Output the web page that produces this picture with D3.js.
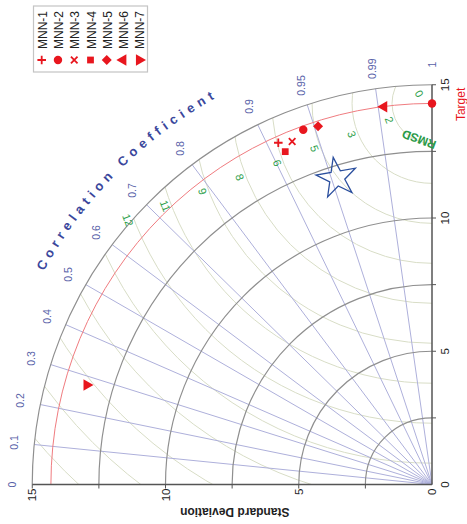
<!DOCTYPE html>
<html><head><meta charset="utf-8">
<script src="https://cdn.jsdelivr.net/npm/d3@7"></script>
<style>body{margin:0;background:#fff}svg{display:block;font-family:"Liberation Sans",Arial,sans-serif}</style>
</head><body><svg id="c" width="467" height="524"></svg>
<script>
// ---- data ----
const models = ["MNN-1","MNN-2","MNN-3","MNN-4","MNN-5","MNN-6","MNN-7"];
const stdValues = [14.06, 14.16, 13.90, 13.65, 14.11, 14.29, 13.48];
const corrValues = [0.912, 0.940, 0.926, 0.915, 0.953, 0.992, 0.277];
const markerKinds = ["plus","circle","times","square","diamond","triUp","triDown"];
const refStd = 14.3;
const stdTicks = [0, 5, 10, 15];
const stdGrid = [2.5, 5, 7.5, 10, 12.5, 15];
const stdMinorTicks = [2.5, 5, 7.5, 10, 12.5, 15];
const corrTicks = [0, 0.1, 0.2, 0.3, 0.4, 0.5, 0.6, 0.7, 0.8, 0.9, 0.95, 0.99, 1];
const corrTickLabels = ["0","0.1","0.2","0.3","0.4","0.5","0.6","0.7","0.8","0.9","0.95","0.99","1"];
const corrLines = [0.1, 0.2, 0.3, 0.4, 0.5, 0.6, 0.7, 0.8, 0.9, 0.95, 0.99];
const rmsLevels = [1.5, 3, 4.5, 6, 7.5, 9, 10.5, 12, 13.5, 15, 16.5, 18, 19.5];
const rmsLabelLevels = [1.5, 3, 4.5, 6, 7.5, 9, 10.5, 12];
const rmsLabelTexts = ["2","3","5","6","8","9","11","12"];
const starStd = 12.04, starCorr = 0.955;

// ---- layout ----
const ox = 432, oy = 484.5;
const rS = d3.scaleLinear().domain([0, 15]).range([0, 399.75]);
const maxStd = 15;
const svg = d3.select("#c");
const red = "#e8161e";

function pos(s, c) {
  const t = Math.acos(Math.max(-1, Math.min(1, c)));
  const R = rS(s);
  return [ox - R * Math.sin(t), oy - R * Math.cos(t)];
}
function arcPath(s) {
  const R = rS(s), p = d3.path();
  p.moveTo(ox - R, oy);
  p.arc(ox, oy, R, Math.PI, 1.5 * Math.PI, false);
  return p.toString();
}

// clip for the quadrant
const cp = d3.path();
cp.moveTo(ox, oy); cp.lineTo(ox - rS(maxStd), oy);
cp.arc(ox, oy, rS(maxStd), Math.PI, 1.5 * Math.PI, false); cp.closePath();
svg.append("clipPath").attr("id", "quad").append("path").attr("d", cp.toString());

// RMSD contours
const T = pos(refStd, 1);
svg.append("g").attr("clip-path", "url(#quad)")
  .selectAll("circle").data(rmsLevels).join("circle")
  .attr("cx", T[0]).attr("cy", T[1]).attr("r", d => rS(d))
  .attr("fill", "none").attr("stroke", "#d8ddc6").attr("stroke-width", 1);

// correlation radial lines
svg.append("g").selectAll("line").data(corrLines).join("line")
  .attr("x1", ox).attr("y1", oy)
  .attr("x2", d => pos(maxStd, d)[0]).attr("y2", d => pos(maxStd, d)[1])
  .attr("stroke", "#aeb0db").attr("stroke-width", 1);

// std arcs
svg.append("g").selectAll("path").data(stdGrid).join("path")
  .attr("d", d => arcPath(d)).attr("fill", "none")
  .attr("stroke", "#8f8f8f").attr("stroke-width", 1.2);

// reference arc
svg.append("path").attr("d", arcPath(refStd)).attr("fill", "none")
  .attr("stroke", "#f07c80").attr("stroke-width", 1);

// axes
svg.append("line").attr("x1", ox).attr("y1", oy).attr("x2", ox - rS(maxStd)).attr("y2", oy)
  .attr("stroke", "#555").attr("stroke-width", 1.5);
svg.append("line").attr("x1", ox).attr("y1", oy).attr("x2", ox).attr("y2", oy - rS(maxStd))
  .attr("stroke", "#555").attr("stroke-width", 1.5);
svg.append("g").selectAll("line").data(stdMinorTicks).join("line")
  .attr("x1", d => ox - rS(d)).attr("x2", d => ox - rS(d))
  .attr("y1", oy).attr("y2", oy + 4).attr("stroke", "#555");
svg.append("g").selectAll("line").data(stdMinorTicks).join("line")
  .attr("y1", d => oy - rS(d)).attr("y2", d => oy - rS(d))
  .attr("x1", ox).attr("x2", ox + 4).attr("stroke", "#555");

// std tick labels (bottom axis)
svg.append("g").selectAll("text").data(stdTicks).join("text")
  .attr("transform", d => `translate(${ox - rS(d)},${oy + 4}) rotate(-90)`)
  .attr("dy", "0.35em").attr("text-anchor", "end")
  .attr("font-size", 11.5).attr("fill", "#222").text(d => d);
// std tick labels (right axis)
svg.append("g").selectAll("text").data(stdTicks).join("text")
  .attr("transform", d => `translate(${ox + 13},${oy - rS(d)}) rotate(-90)`)
  .attr("dy", "0.35em").attr("text-anchor", "middle")
  .attr("font-size", 11.5).attr("fill", "#222").text(d => d);

// correlation tick labels
svg.append("g").selectAll("text").data(corrTicks).join("text")
  .attr("transform", (d) => { const p = pos(15.76, d); return `translate(${p[0]},${p[1]}) rotate(-90)`; })
  .attr("dy", "0.35em").attr("text-anchor", "middle")
  .attr("font-size", 10.5).attr("fill", "#5861a8").text((d, i) => corrTickLabels[i]);

// Correlation Coefficient curved title
{
  const R = rS(16.62), p = d3.path();
  const a0 = Math.PI + 0.1, a1 = 1.5 * Math.PI - 0.1;
  p.moveTo(ox + R * Math.cos(a0), oy + R * Math.sin(a0));
  p.arc(ox, oy, R, a0, a1, false);
  svg.append("path").attr("id", "ccpath").attr("d", p.toString()).attr("fill", "none");
  svg.append("text").attr("font-size", 13).attr("font-weight", "bold")
    .attr("fill", "#3a479c").attr("letter-spacing", 4.8)
    .append("textPath").attr("href", "#ccpath").attr("startOffset", "50%")
    .attr("text-anchor", "middle").text("Correlation Coefficient");
}

// Standard Deviation label
svg.append("text").attr("transform", `translate(${ox - rS(7.4)},${oy + 28}) rotate(180)`)
  .attr("text-anchor", "middle").attr("dy", "0.35em")
  .attr("font-size", 12).attr("font-weight", "bold").attr("fill", "#222")
  .text("Standard Deviation");

// RMSD labels
const labAng = 159 * Math.PI / 180;
svg.append("g").selectAll("text").data(rmsLabelLevels).join("text")
  .attr("transform", d => {
    const dd = rS(d) + 6;
    return `translate(${T[0] + dd * Math.cos(labAng)},${T[1] + dd * Math.sin(labAng)}) rotate(69)`;
  })
  .attr("text-anchor", "middle").attr("dy", "0.35em")
  .attr("font-size", 11).attr("fill", "#2f9f4c").text((d, i) => rmsLabelTexts[i]);
{
  const a0 = 217 * Math.PI / 180;
  svg.append("text").attr("transform", `translate(${T[0] + 16 * Math.cos(a0)},${T[1] + 16 * Math.sin(a0)}) rotate(60)`)
    .attr("text-anchor", "middle").attr("dy", "0.35em")
    .attr("font-size", 11).attr("fill", "#2f9f4c").text("0");
}
svg.append("text").attr("transform", `translate(${T[0] - 13},${T[1] + 36}) rotate(200)`)
  .attr("text-anchor", "middle").attr("dy", "0.35em")
  .attr("font-size", 12).attr("font-weight", "bold").attr("fill", "#2a9a48").text("RMSD");

// markers
function markerPath(kind) {
  switch (kind) {
    case "plus": return d3.symbol(d3.symbolPlus, 26)();
    case "times": return d3.symbol(d3.symbolTimes, 30)();
    case "circle": return d3.symbol(d3.symbolCircle, 56)();
    case "square": return d3.symbol(d3.symbolSquare, 46)();
    case "diamond": return d3.symbol(d3.symbolSquare, 50)();
    default: return d3.symbol(d3.symbolTriangle, 58)();
  }
}
function markerRot(kind) {
  return kind === "diamond" ? 45 : kind === "triUp" ? -90 : kind === "triDown" ? 90 : 0;
}
function drawMarker(g, kind, x, y) {
  const stroke = kind === "plus" || kind === "times";
  g.append("path").attr("d", markerPath(kind))
    .attr("transform", `translate(${x},${y}) rotate(${markerRot(kind)})`)
    .attr("fill", stroke ? "none" : red).attr("stroke", stroke ? red : "none")
    .attr("stroke-width", stroke ? 1.8 : 0);
}
const mg = svg.append("g");
models.forEach((m, i) => {
  const p = pos(stdValues[i], corrValues[i]);
  drawMarker(mg, markerKinds[i], p[0], p[1]);
});
// target
mg.append("path").attr("d", d3.symbol(d3.symbolCircle, 56)())
  .attr("transform", `translate(${T[0]},${T[1]})`).attr("fill", red);
svg.append("text").attr("transform", `translate(${T[0] + 29},${T[1] + 1}) rotate(-90)`)
  .attr("text-anchor", "middle").attr("dy", "0.35em")
  .attr("font-size", 12).attr("fill", red).text("Target");

// star annotation
{
  const p = pos(starStd, starCorr);
  svg.append("path").attr("d", d3.symbol(d3.symbolStar, 495)())
    .attr("transform", `translate(${p[0]},${p[1]}) rotate(-10)`)
    .attr("fill", "none").attr("stroke", "#2b4f9e").attr("stroke-width", 1.3);
}

// legend
const lg = svg.append("g");
lg.append("rect").attr("x", 33.5).attr("y", 6).attr("width", 114).attr("height", 66)
  .attr("fill", "#fff").attr("stroke", "#c4c4c4").attr("stroke-width", 1.2);
const lx = d3.scalePoint().domain(models).range([41.7, 139.3]);
models.forEach((m, i) => {
  drawMarker(lg, markerKinds[i], lx(m), 60);
  lg.append("text").attr("transform", `translate(${lx(m) + 5},49) rotate(-90)`)
    .attr("font-size", 12).attr("fill", "#222").text(m);
});
</script>
</body></html>
